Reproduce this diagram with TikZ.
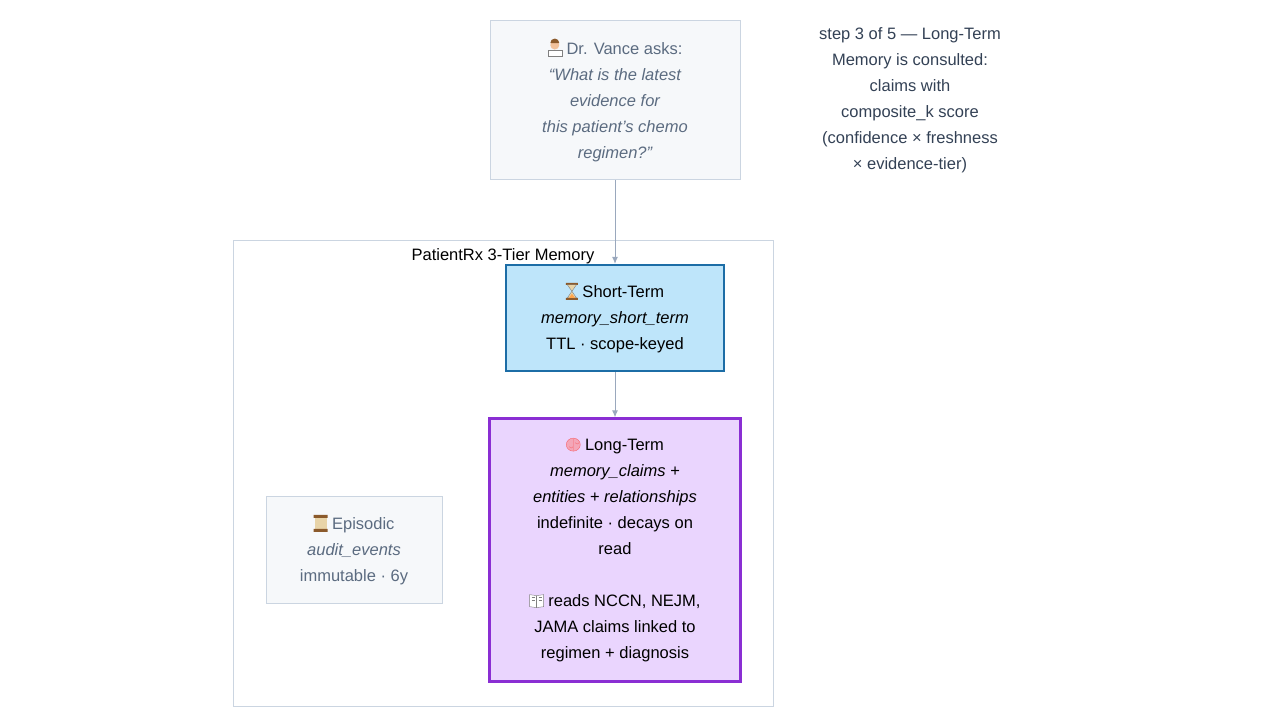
\documentclass[tikz,border=0pt]{standalone}
\usepackage{fontspec}
\setmainfont{Liberation Sans}
\usetikzlibrary{arrows.meta,positioning}
\definecolor{askfill}{HTML}{F6F8FA}
\definecolor{askline}{HTML}{CBD5E1}
\definecolor{asktext}{HTML}{5B6B80}
\definecolor{stfill}{HTML}{BEE5FA}
\definecolor{stline}{HTML}{1C6DA6}
\definecolor{ltfill}{HTML}{EAD5FE}
\definecolor{ltline}{HTML}{8A2ED3}
\definecolor{flow}{HTML}{9AA8BD}
\definecolor{note}{HTML}{334155}
\definecolor{wood}{HTML}{8B5A2B}
\definecolor{paper}{HTML}{E8D4A8}
\definecolor{pink}{HTML}{F4A6B8}
\definecolor{skin}{HTML}{F2C29B}
% small drawn icons standing in for emoji
\newcommand{\icdoc}{\tikz[baseline=0pt,x=1pt,y=1pt]{\fill[skin] (7,9) circle (4.5); \fill[wood] (2.5,11) arc (180:0:4.5) -- cycle; \fill[white,draw=gray] (0,-2) rectangle (14,4);}}
\newcommand{\icglass}{\tikz[baseline=0pt,x=1pt,y=1pt]{\fill[wood] (0,-2) rectangle (12,0) (0,13) rectangle (12,15); \fill[paper,draw=gray] (1.5,0) -- (10.5,0) -- (6,6.5) -- (10.5,13) -- (1.5,13) -- (6,6.5) -- cycle; \fill[orange!70] (3,0) -- (9,0) -- (6,4) -- cycle;}}
\newcommand{\icbrain}{\tikz[baseline=0pt,x=1pt,y=1pt]{\fill[pink,draw=pink!60!red] (7,6) ellipse (7 and 6.5); \draw[pink!60!red] (7,0) -- (7,12) (3,4) arc (200:340:2) (9,8) arc (200:340:2);}}
\newcommand{\icbook}{\tikz[baseline=0pt,x=1pt,y=1pt]{\fill[white,draw=gray] (0,0) -- (7,-1) -- (14,0) -- (14,12) -- (7,11) -- (0,12) -- cycle; \draw[gray] (7,-1) -- (7,11) (2,9) -- (5,9) (2,6) -- (5,6) (9,9) -- (12,9) (9,6) -- (12,6);}}
\newcommand{\icscroll}{\tikz[baseline=0pt,x=1pt,y=1pt]{\fill[paper] (1,0) rectangle (13,13); \fill[wood] (0,-2) rectangle (14,1) (0,12) rectangle (14,15);}}
\tikzset{
  box/.style={draw, rectangle, align=center, font=\fontsize{16.5}{26}\selectfont, inner sep=0pt},
  pale/.style={box, fill=askfill, draw=askline, line width=1pt, text=asktext},
  flowline/.style={draw=flow, line width=1pt, -{Latex[length=7pt,width=6pt]}}
}
\begin{document}
\begin{tikzpicture}[x=1pt,y=-1pt]
\useasboundingbox (0,0) rectangle (1280,720);
% container
\node[draw=askline, line width=1pt, minimum width=540pt, minimum height=466pt, anchor=north west, inner sep=0pt] (tiers) at (233,240) {};
\node[font=\fontsize{16.5}{20}\selectfont, anchor=base] (tiertitle) at (503,260) {PatientRx 3-Tier Memory};
% question
\node[pale, minimum width=250pt, minimum height=159pt] (ask) at (615,100)
  {\icdoc\ Dr. Vance asks:\\ \itshape “What is the latest\\ \itshape evidence for\\ \itshape this patient's chemo\\ \itshape regimen?”};
% tiers
\node[box, fill=stfill, draw=stline, line width=2.2pt, minimum width=218pt, minimum height=106pt] (short) at (615,318)
  {\icglass\ Short-Term\\ \itshape memory\_short\_term\\ TTL · scope-keyed};
\node[box, fill=ltfill, draw=ltline, line width=2.2pt, minimum width=251pt, minimum height=263pt] (long) at (615,550)
  {\icbrain\ Long-Term\\ \itshape memory\_claims +\\ \itshape entities \upshape+ \itshape relationships\\ indefinite · decays on\\ read\\[26pt] \icbook\ reads NCCN, NEJM,\\ JAMA claims linked to\\ regimen + diagnosis};
\node[pale, minimum width=176pt, minimum height=107pt] (episodic) at (354,550)
  {\icscroll\ Episodic\\ \itshape audit\_events\\ immutable · 6y};
% step caption
\node[align=center, text=note, font=\fontsize{16.5}{26}\selectfont] (step) at (910,100)
  {step 3 of 5 — Long-Term\\ Memory is consulted:\\ claims with\\ composite\_k score\\ (confidence × freshness\\ × evidence-tier)};
\draw[flowline] (ask) -- (short);
\draw[flowline] (short) -- (long);
\end{tikzpicture}
\end{document}
